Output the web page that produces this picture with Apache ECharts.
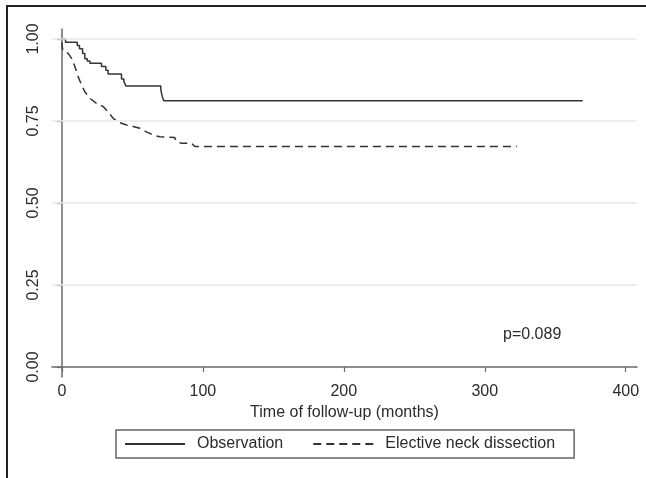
<!DOCTYPE html>
<html>
<head>
<meta charset="utf-8">
<script src="https://cdn.jsdelivr.net/npm/echarts@6/dist/echarts.min.js"></script>
<style>
  html, body { margin: 0; padding: 0; background: #fff; }
  #chart { width: 646px; height: 478px; }
</style>
</head>
<body>
<div id="chart"></div>
<script>
// Kaplan-Meier estimates (time in months, survival proportion)
const obsTime = [0, 2.6, 10.9, 12.5, 14.7, 16.3, 18, 19.9, 28.1, 31.2, 32.8, 42.3, 44, 45.4, 70.2, 71.2, 72.3, 369.5]
const obsSurv = [1.0, 0.99, 0.98, 0.97, 0.956, 0.94, 0.933, 0.926, 0.916, 0.905, 0.893, 0.878, 0.87, 0.857, 0.845, 0.825, 0.812, 0.812]
const endTime = [0, 0.6, 2, 4.5, 6.9, 9.2, 11.6, 14, 16.3, 19.9, 24.6, 29.3, 32.8, 36.4, 41.1, 45.9, 50.6, 55.3, 60, 64.8, 69.5, 80, 81.3, 84.9, 92, 94.3, 322.7]
const endSurv = [0.99, 0.965, 0.96, 0.956, 0.941, 0.916, 0.885, 0.86, 0.839, 0.819, 0.804, 0.794, 0.778, 0.758, 0.745, 0.738, 0.733, 0.728, 0.717, 0.707, 0.702, 0.700, 0.687, 0.682, 0.682, 0.672, 0.672]
const xTicks = [0, 100, 200, 300, 400]
const yTicks = [0, 0.25, 0.5, 0.75, 1]
const yGrid = [0.25, 0.5, 0.75, 1]
const seriesNames = ['Observation', 'Elective neck dissection']
const pText = 'p=0.089'

const font = 'Liberation Sans, Arial, sans-serif'
const ink = '#2b2b2b'
const axisInk = '#6a6a6a'

const chart = echarts.init(document.getElementById('chart'), null, { renderer: 'canvas' })

chart.setOption({
  animation: false,
  backgroundColor: '#fff',
  textStyle: { fontFamily: font },
  grid: { left: 52, right: 9, top: 29, bottom: 101 },
  xAxis: {
    type: 'value',
    min: -7,
    max: 408,
    name: 'Time of follow-up (months)',
    nameLocation: 'middle',
    nameGap: 28,
    nameTextStyle: { fontSize: 16, color: ink, fontFamily: font },
    axisLine: { lineStyle: { color: axisInk, width: 1.5 } },
    axisTick: { show: true, length: 5, customValues: xTicks, lineStyle: { color: axisInk, width: 1.2 } },
    axisLabel: { customValues: xTicks, fontSize: 16, color: ink, margin: 7, fontFamily: font },
    splitLine: { show: false }
  },
  yAxis: {
    type: 'value',
    min: -0.0305,
    max: 1.0305,
    axisLine: { show: true, lineStyle: { color: axisInk, width: 1.5 } },
    axisTick: { show: true, length: 5, customValues: yTicks, lineStyle: { color: axisInk, width: 1.2 } },
    axisLabel: {
      customValues: yTicks,
      rotate: 90,
      fontSize: 16,
      color: ink,
      margin: 10,
      fontFamily: font,
      formatter: v => v.toFixed(2)
    },
    splitLine: { show: false }
  },
  legend: {
    data: seriesNames,
    left: 116,
    top: 430,
    orient: 'horizontal',
    itemWidth: 60,
    itemHeight: 14,
    itemGap: 29,
    padding: [6, 19, 6, 8],
    borderColor: '#666',
    borderWidth: 1.5,
    itemStyle: { opacity: 0 },
    textStyle: { fontSize: 16, color: ink, fontFamily: font, padding: [0, 0, 0, 7] }
  },
  graphic: [
    { type: 'line', shape: { x1: 6, y1: 6, x2: 646, y2: 6 }, style: { stroke: '#222', lineWidth: 2 } },
    { type: 'line', shape: { x1: 7, y1: 6, x2: 7, y2: 478 }, style: { stroke: '#222', lineWidth: 2 } },
    { type: 'text', left: 503, top: 327, style: { text: pText, fontSize: 16, fill: ink, fontFamily: font } }
  ],
  series: [
    {
      name: 'grid',
      type: 'line',
      data: [],
      z: 1,
      silent: true,
      markLine: {
        silent: true,
        symbol: 'none',
        label: { show: false },
        lineStyle: { color: '#e8e8e8', width: 1.5, type: 'solid' },
        data: yGrid.map(v => ({ yAxis: v }))
      }
    },
    {
      name: seriesNames[0],
      type: 'line',
      step: 'end',
      showSymbol: false,
      symbol: 'none',
      z: 3,
      lineStyle: { color: '#333', width: 1.5, type: 'solid' },
      itemStyle: { color: '#333' },
      data: obsTime.map((t, i) => [t, obsSurv[i]])
    },
    {
      name: seriesNames[1],
      type: 'line',
      showSymbol: false,
      symbol: 'none',
      z: 3,
      lineStyle: { color: '#333', width: 1.5, type: [8, 5] },
      itemStyle: { color: '#333' },
      data: endTime.map((t, i) => [t, endSurv[i]])
    }
  ]
})
</script>
</body>
</html>
